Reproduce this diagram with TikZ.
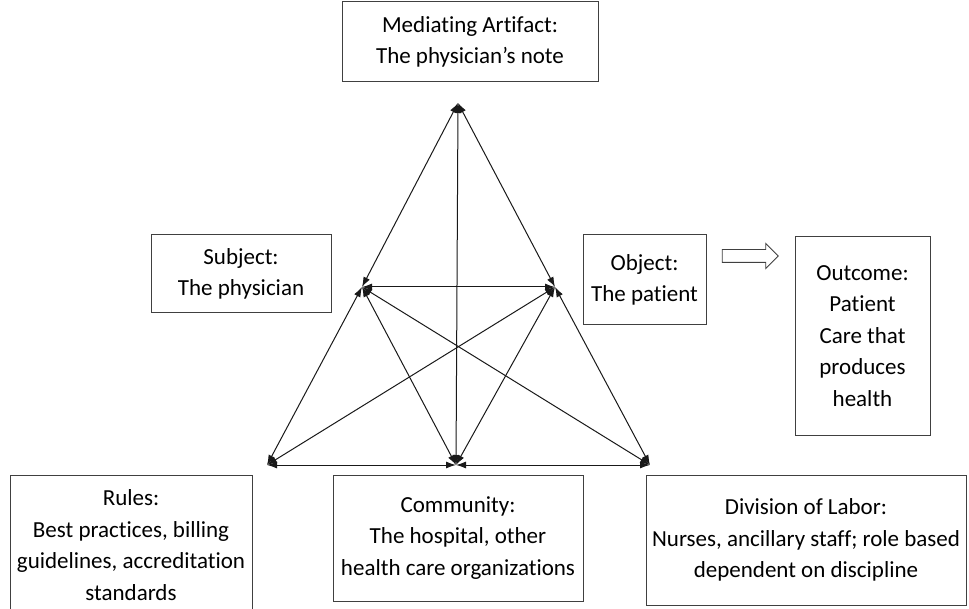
\documentclass[tikz,border=0pt]{standalone}
\usepackage{fontspec}
\setmainfont{Carlito}[Ligatures=NoCommon]
\usepackage{tikz}
\usetikzlibrary{arrows.meta, shapes.arrows}
\tikzstyle{arrow} = [line width=1pt, draw=black!90, {Latex[length=10pt,width=7pt]}-{Latex[length=10pt,width=7pt]}]
\tikzstyle{box} = [rectangle, draw=black!75, line width=1pt, align=center, inner sep=0pt, font=\fontsize{23}{31.5}\selectfont]
\tikzset{
	hollowArrow/.style = {single arrow, draw=black!75, fill=white, line width=0.9pt, minimum height=56pt, inner xsep=0pt, inner ysep=6pt, single arrow head extend=6pt}
}

\begin{document}
\begin{tikzpicture}[x=1pt, y=-1pt]
\useasboundingbox (0,0) rectangle (969,609);
%----------------------------------------------------------------------------
% Corners of the triangle
\coordinate (top) at (458,103);
\coordinate (subj) at (362,287);
\coordinate (obj) at (555,287);
\coordinate (rules) at (267,465);
\coordinate (comm) at (456,465);
\coordinate (div) at (650,465);

%----------------------------------------------------------------------------
% Text boxes
\node (artifactBox) [box, minimum width=256pt, minimum height=80pt] at (470,42)
{Mediating Artifact:\\ The physician's note};

\node (subjectBox) [box, minimum width=180pt, minimum height=78pt] at (241,274)
{Subject:\\ The physician};

\node (objectBox) [box, minimum width=123pt, minimum height=90pt] at (644.5,280)
{Object:\\ The patient};

\node (outcomeBox) [box, minimum width=135pt, minimum height=198pt] at (862.5,336)
{Outcome:\\ Patient\\ Care that\\ produces\\ health};

\node (rulesBox) [box, minimum width=242pt, minimum height=140pt] at (131,545)
{Rules:\\ Best practices, billing\\ guidelines, accreditation\\ standards};

\node (commBox) [box, minimum width=250pt, minimum height=126pt] at (458,538)
{Community:\\ The hospital, other\\ health care organizations};

\node (divBox) [box, minimum width=320pt, minimum height=130pt] at (806,540)
{Division of Labor:\\ Nurses, ancillary staff; role based\\ dependent on discipline};

\node (toOutcome) [hollowArrow] at (747,256) {};

%----------------------------------------------------------------------------
% Lines of the triangle
\draw [arrow] (top) -- (subj);
\draw [arrow] (top) -- (obj);
\draw [arrow] (top) -- (comm);
\draw [arrow] (subj) -- (obj);
\draw [arrow] (subj) -- (rules);
\draw [arrow] (obj) -- (div);
\draw [arrow] (rules) -- (comm);
\draw [arrow] (comm) -- (div);

% crossing lines
\draw [arrow] (subj) -- (comm);
\draw [arrow] (subj) -- (div);
\draw [arrow] (obj) -- (rules);
\draw [arrow] (obj) -- (comm);
\end{tikzpicture}
\end{document}
